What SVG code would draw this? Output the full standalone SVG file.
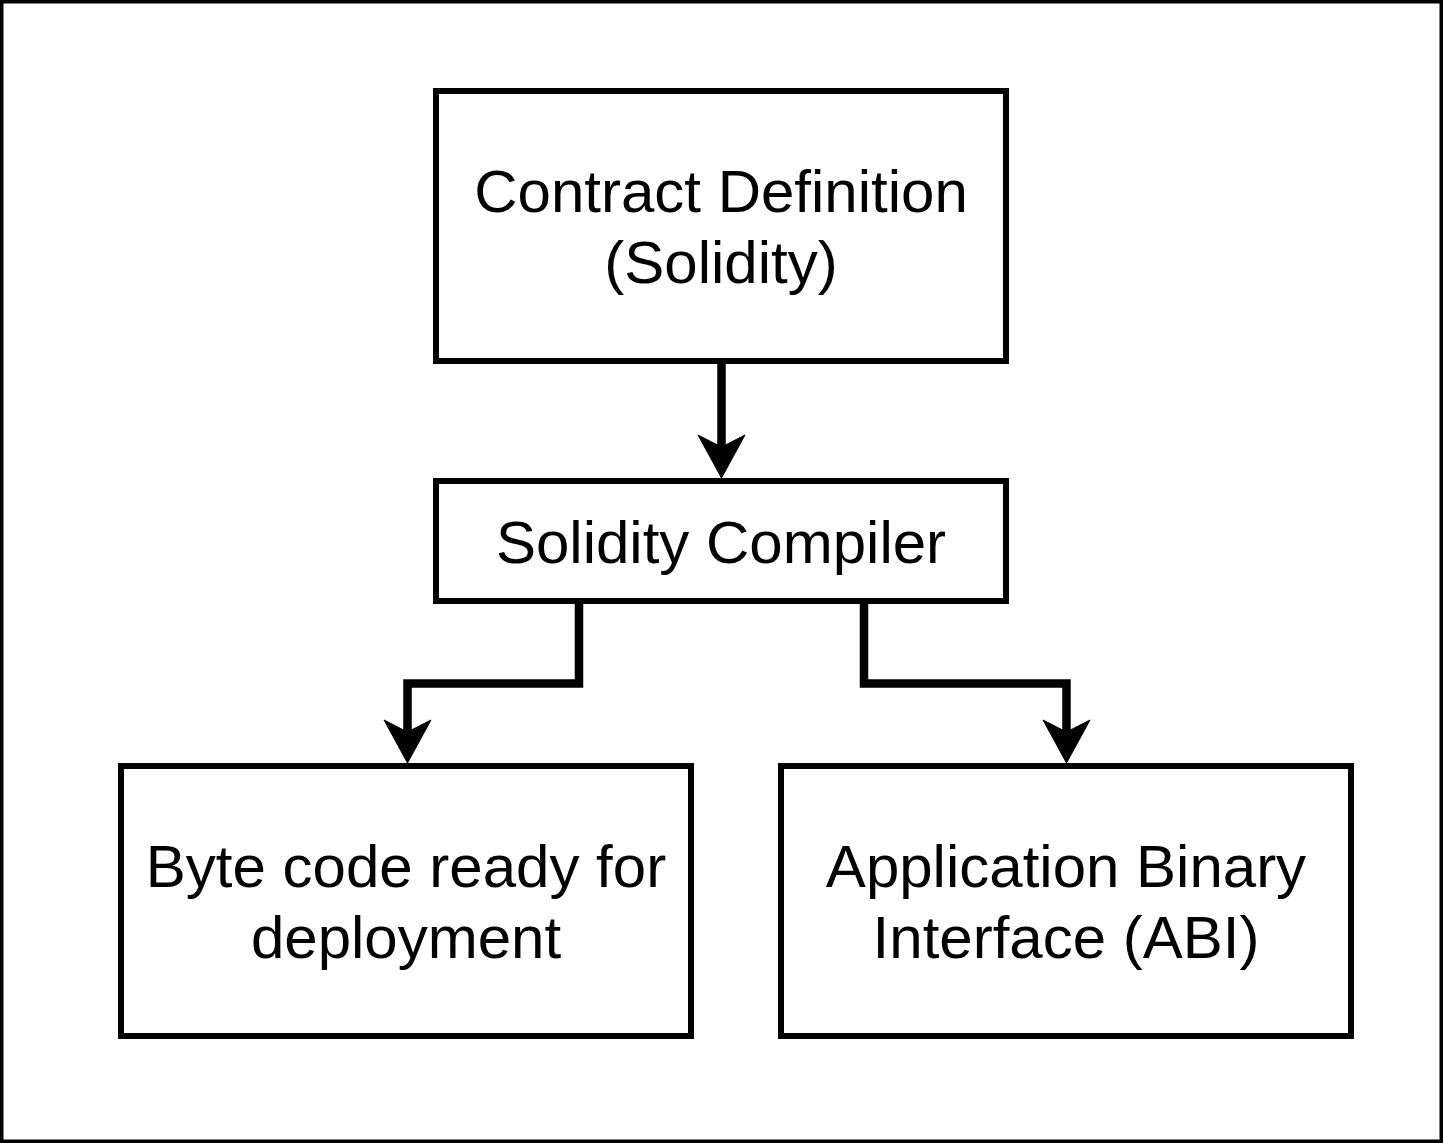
<svg xmlns="http://www.w3.org/2000/svg" width="1443" height="1143" viewBox="0 0 1443 1143">
<style>
.box{fill:#ffffff;stroke:#000000;stroke-width:6}
.lbl{font-family:"Liberation Sans",Arial,sans-serif;font-size:60px;fill:#000000;text-anchor:middle}
.edge{fill:none;stroke:#000000;stroke-width:8.5;stroke-linejoin:miter;stroke-miterlimit:10}
.head{fill:#000000;stroke:#000000;stroke-width:1}
</style>
<rect x="0" y="0" width="1443" height="1143" fill="#ffffff"/>
<rect x="1.75" y="1.75" width="1439.5" height="1139.5" fill="none" stroke="#000000" stroke-width="3.5"/>
<g id="connectors">
<path class="edge" d="M721.5,361 V448"/>
<path class="head" d="M721.5,478 L698,435 L721.5,447 L745,435 Z"/>
<path class="edge" d="M579,601 V683.5 H407.5 V733"/>
<path class="head" d="M407.5,763 L384,720 L407.5,732 L431,720 Z"/>
<path class="edge" d="M864,601 V683.5 H1066.5 V733"/>
<path class="head" d="M1066.5,763 L1043,720 L1066.5,732 L1090,720 Z"/>
</g>
<g id="node-contract">
<rect class="box" x="436" y="91" width="570" height="270"/>
<text class="lbl" x="721" y="212">Contract Definition</text>
<text class="lbl" x="721" y="283">(Solidity)</text>
</g>
<g id="node-compiler">
<rect class="box" x="436" y="481" width="570" height="120"/>
<text class="lbl" x="721" y="563">Solidity Compiler</text>
</g>
<g id="node-bytecode">
<rect class="box" x="121" y="766" width="570" height="270"/>
<text class="lbl" x="406" y="887">Byte code ready for</text>
<text class="lbl" x="406" y="958">deployment</text>
</g>
<g id="node-abi">
<rect class="box" x="781" y="766" width="570" height="270"/>
<text class="lbl" x="1066" y="887">Application Binary</text>
<text class="lbl" x="1066" y="958">Interface (ABI)</text>
</g>
</svg>
